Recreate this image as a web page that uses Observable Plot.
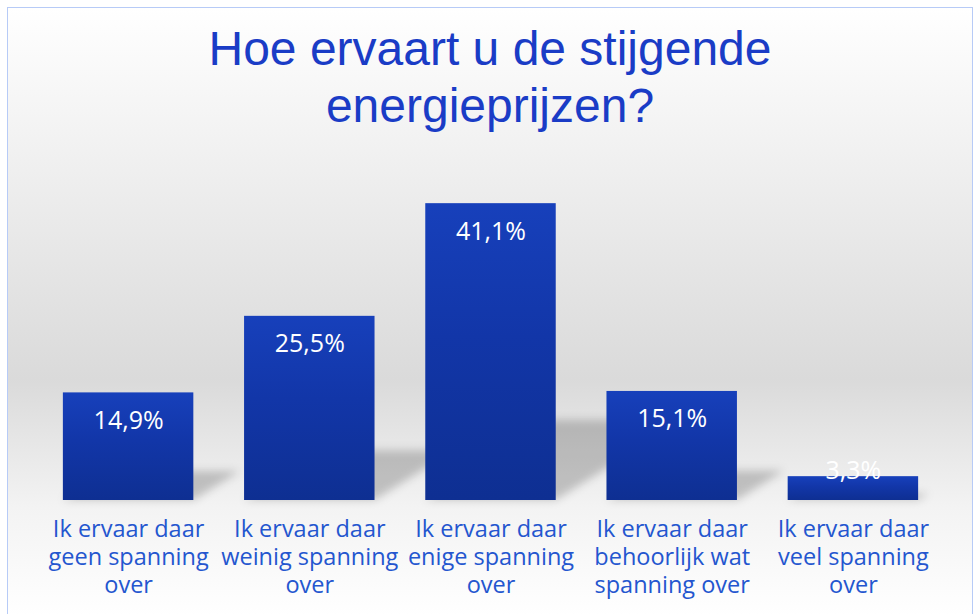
<!DOCTYPE html>
<html>
<head>
<meta charset="utf-8">
<script src="https://cdn.jsdelivr.net/npm/d3@7"></script>
<script src="https://cdn.jsdelivr.net/npm/@observablehq/plot@0.6"></script>
<style>
  html, body { margin: 0; padding: 0; width: 976px; height: 614px; overflow: hidden; background: #fff; }
  #frame {
    position: absolute; left: 7px; top: 7px; width: 964px; height: 640px;
    border: 1.5px solid #b7cbf7;
    background: linear-gradient(to bottom, #ffffff 0%, #ececec 30%, #dadada 58%, #f3f3f3 78%, #ffffff 95%);
  }
  #title {
    position: absolute; left: 0; top: 20px; width: 980px; text-align: center;
    font-family: "Liberation Sans", Arial, sans-serif;
    font-size: 48px; line-height: 57px; color: #1a3cc6; font-weight: normal;
  }
  #chart { position: absolute; left: 0; top: 150px; }
</style>
</head>
<body>
<div id="frame"></div>
<div id="title">Hoe ervaart u de stijgende<br>energieprijzen?</div>
<div id="chart"></div>
<script>
const categories = [
  "Ik ervaar daar geen spanning over",
  "Ik ervaar daar weinig spanning over",
  "Ik ervaar daar enige spanning over",
  "Ik ervaar daar behoorlijk wat spanning over",
  "Ik ervaar daar veel spanning over"
];
const values = [14.9, 25.5, 41.1, 15.1, 3.3];
const tickLabels = [
  "Ik ervaar daar\ngeen spanning\nover",
  "Ik ervaar daar\nweinig spanning\nover",
  "Ik ervaar daar\nenige spanning\nover",
  "Ik ervaar daar\nbehoorlijk wat\nspanning over",
  "Ik ervaar daar\nveel spanning\nover"
];

const data = categories.map((c, i) => ({category: c, value: values[i]}));
const fmt = v => v.toFixed(1).replace(".", ",") + "%";

const svgNS = "http://www.w3.org/2000/svg";

const defsMark = () => {
  const defs = d3.create("svg:defs");
  const g = defs.append("linearGradient").attr("id", "barGrad")
    .attr("x1", 0).attr("y1", 0).attr("x2", 0).attr("y2", 1);
  g.append("stop").attr("offset", "0%").attr("stop-color", "#1740bb");
  g.append("stop").attr("offset", "45%").attr("stop-color", "#1236a8");
  g.append("stop").attr("offset", "100%").attr("stop-color", "#0e2f92");
  const f = defs.append("filter").attr("id", "shadowBlur")
    .attr("x", "-50%").attr("y", "-50%").attr("width", "200%").attr("height", "200%");
  f.append("feGaussianBlur").attr("stdDeviation", 4);
  return defs.node();
};

const chart = Plot.plot({
  width: 976,
  height: 464,
  marginTop: 25,
  marginBottom: 114,
  marginLeft: 37.5,
  marginRight: 32.5,
  style: {fontFamily: "Open Sans", background: "transparent", overflow: "visible"},
  x: {domain: categories, paddingInner: 0.28, paddingOuter: 0.14, round: false, axis: null},
  y: {domain: [0, 45], axis: null},
  marks: [
    defsMark,
    Plot.barY(data, {
      x: "category",
      y: d => d.value * 0.27,
      fill: "#000",
      fillOpacity: 0.2,
      render(index, scales, vals, dimensions, context, next) {
        const g = next(index, scales, vals, dimensions, context);
        const y0 = scales.y(0);
        const wrap = document.createElementNS(svgNS, "g");
        wrap.setAttribute("filter", "url(#shadowBlur)");
        const inner = document.createElementNS(svgNS, "g");
        inner.setAttribute("transform", `translate(0,${y0}) skewX(-58) translate(0,${-y0})`);
        inner.appendChild(g);
        wrap.appendChild(inner);
        return wrap;
      }
    }),
    Plot.barY(data, {x: "category", y: "value", fill: "url(#barGrad)"}),
    Plot.text(data, {
      x: "category",
      y: d => Math.max(d.value, 8),
      text: d => fmt(d.value),
      dy: 28,
      fill: "white",
      fontSize: 25,
      fontFamily: "Open Sans",
      lineAnchor: "middle"
    }),
    Plot.axisX({
      tickSize: 0,
      tickPadding: 17,
      label: null,
      tickFormat: d => tickLabels[categories.indexOf(d)],
      fontSize: 23.5,
      fill: "#2456cf",
      lineHeight: 1.19,
      fontFamily: "Open Sans"
    })
  ]
});
document.getElementById("chart").appendChild(chart);
</script>
</body>
</html>
